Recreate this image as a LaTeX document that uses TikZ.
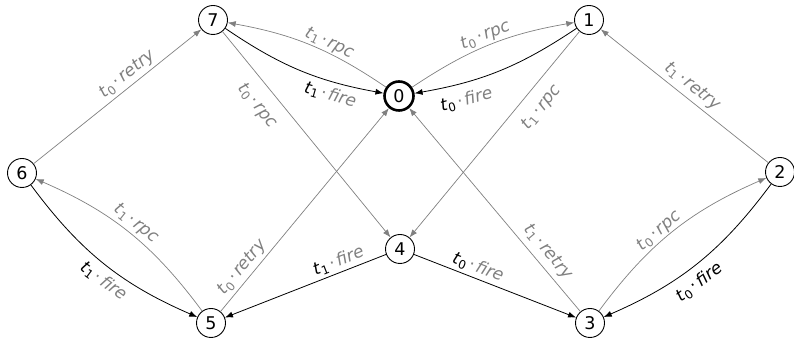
\documentclass[tikz,border=0pt]{standalone}
\usepackage{fontspec}
\setmainfont{DejaVu Sans}
\usetikzlibrary{arrows.meta}
\definecolor{lg}{RGB}{128,128,128}
\newcommand{\tf}[2]{\textit{t}\textsubscript{#1}\hspace{0.12em}{\color{lg}·\hspace{0.12em}\textit{#2}}}
\newcommand{\tb}[2]{\textit{t}\textsubscript{#1}\hspace{0.12em}·\hspace{0.12em}\textit{#2}}
\tikzset{
  st/.style={circle,draw,line width=0.9pt,minimum size=29pt,inner sep=0pt,font=\fontsize{17.5}{20}\selectfont},
  gedge/.style={draw=lg,line width=0.7pt,-{Latex[length=8pt,width=6pt]}},
  bedge/.style={draw=black,line width=0.8pt,-{Latex[length=8pt,width=6pt]}},
  lbl/.style={sloped,inner sep=3pt,font=\fontsize{17}{20}\selectfont},
  glbl/.style={lbl,text=lg}
}
\begin{document}
\begin{tikzpicture}[x=1pt,y=1pt]
\useasboundingbox (0,0) rectangle (794,339);
\node[st] (n7) at (213,319) {7};
\node[st,line width=2.6pt] (n0) at (399,243) {0};
\node[st] (n1) at (589,319) {1};
\node[st] (n6) at (22,166) {6};
\node[st] (n2) at (780,167) {2};
\node[st] (n4) at (400,90) {4};
\node[st] (n5) at (211,16) {5};
\node[st] (n3) at (590,16) {3};

\draw[bedge] (n7) to[bend right=12] node[lbl,below,pos=0.72,inner sep=5pt] {\tf{1}{fire}} (n0);
\draw[gedge] (n0) to[bend right=12] node[glbl,above,pos=0.4,inner sep=1pt] {\tf{1}{rpc}} (n7);
\draw[gedge] (n0) to[bend left=12] node[glbl,above,pos=0.5,inner sep=2pt] {\tf{0}{rpc}} (n1);
\draw[bedge] (n1) to[bend left=12] node[lbl,below,pos=0.74,inner sep=9pt] {\tf{0}{fire}} (n0);
\draw[gedge] (n1) -- node[glbl,below,pos=0.31,inner sep=11pt] {\tf{1}{rpc}} (n4);
\draw[gedge] (n7) -- node[glbl,below,pos=0.3,inner sep=12pt] {\tf{0}{rpc}} (n4);
\draw[gedge] (n2) -- node[glbl,above,pos=0.5,inner sep=4pt] {\tf{1}{retry}} (n1);
\draw[gedge] (n6) -- node[glbl,above,pos=0.6] {\tf{0}{retry}} (n7);
\draw[gedge] (n5) to[bend right=15] node[glbl,above,pos=0.5] {\tf{1}{rpc}} (n6);
\draw[bedge] (n6) to[bend right=15] node[lbl,below,pos=0.55,inner sep=6pt] {\tf{1}{fire}} (n5);
\draw[gedge] (n5) -- node[glbl,above,pos=0.18] {\tf{0}{retry}} (n0);
\draw[gedge] (n3) -- node[glbl,above,pos=0.25,inner sep=5pt] {\tf{1}{retry}} (n0);
\draw[bedge] (n4) -- node[lbl,above,pos=0.27] {\tf{1}{fire}} (n5);
\draw[bedge] (n4) -- node[lbl,above,pos=0.37] {\tf{0}{fire}} (n3);
\draw[gedge] (n3) to[bend left=15] node[glbl,above,pos=0.45,inner sep=1pt] {\tf{0}{rpc}} (n2);
\draw[bedge] (n2) to[bend left=15] node[lbl,below,pos=0.55,inner sep=8pt] {\tb{0}{fire}} (n3);
\end{tikzpicture}
\end{document}
